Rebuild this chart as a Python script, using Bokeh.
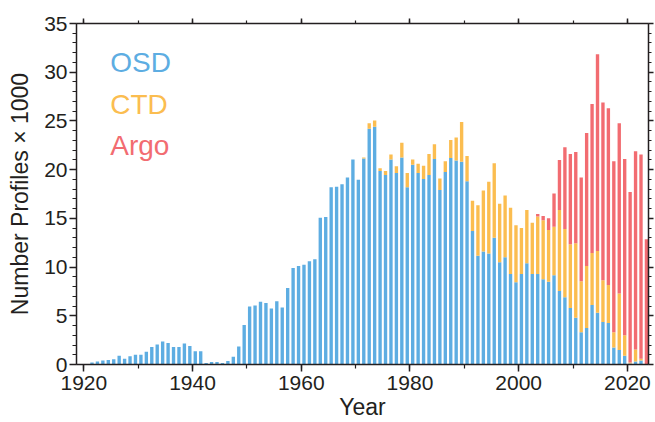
from bokeh.plotting import figure
from bokeh.models import ColumnDataSource, Range1d, LinearAxis, SingleIntervalTicker
from bokeh.core.properties import value
from bokeh.embed import file_html
from bokeh.resources import INLINE

# Annual number of ocean profiles (thousands), by instrument type
years = list(range(1921, 2024))

osd = [0.2, 0.3, 0.4, 0.45, 0.55, 0.9, 0.6, 0.85, 1.0, 1.0,
       1.3, 1.8, 2.05, 2.35, 2.2, 1.8, 1.8, 2.15, 1.9, 1.35,
       1.35, 0.15, 0.25, 0.25, 0.15, 0.35, 0.8, 1.85, 4.05, 5.95,
       6.05, 6.45, 6.3, 5.75, 6.5, 5.85, 7.85, 9.9, 10.1, 10.25,
       10.6, 10.8, 15.05, 15.15, 18.2, 18.25, 18.5, 19.2, 21.05, 18.95,
       21.15, 24.2, 24.4, 19.85, 19.45, 21.05, 19.65, 21.25, 18.2, 20.5,
       19.65, 19.05, 19.45, 21.1, 17.9, 19.75, 21.2, 20.95, 20.8, 18.8,
       13.7, 11.15, 11.6, 11.4, 13.0, 10.5, 11.0, 9.3, 8.45, 9.3,
       10.4, 9.3, 9.3, 8.75, 8.5, 9.15, 7.55, 6.9, 5.8, 4.8,
       3.3, 3.75, 6.1, 5.3, 4.35, 4.25, 1.75, 1.5, 0.9, 0.1,
       0.3, 0.4, 0.0]

ctd = [0.0] * 50 + [
       0.1, 0.55, 0.65, 0.3, 0.4, 0.5, 0.7, 1.5, 1.45, 0.55,
       0.95, 1.35, 2.15, 1.5, 1.2, 1.1, 1.85, 2.35, 4.1, 2.6,
       3.1, 5.2, 6.25, 7.35, 7.65, 6.0, 6.35, 6.8, 5.85, 4.7,
       5.45, 5.25, 5.9, 6.05, 5.3, 5.0, 8.3, 7.0, 6.55, 7.65,
       5.25, 6.35, 5.35, 6.35, 4.3, 3.9, 1.55, 5.8, 2.1, 0.1,
       1.25, 0.2, 0.0]

argo = [0.0] * 82 + [
       0.25, 0.45, 1.2, 3.4, 5.15, 8.4, 9.25, 9.35,
       10.65, 13.65, 15.3, 20.2, 18.25, 18.15, 17.55, 17.45, 18.1, 17.5,
       20.35, 20.95, 12.85]

series = ["OSD", "CTD", "Argo"]
colors = ["#5dade2", "#fbbd50", "#f26c71"]

x_ticks = list(range(1920, 2021, 20))
y_ticks = list(range(0, 36, 5))

FONT = "Liberation Sans"
INK = "#231f20"

source = ColumnDataSource(dict(
    x=[y + 0.5 for y in years], OSD=osd, CTD=ctd, Argo=argo))

p = figure(width=655, height=422, output_backend="svg", toolbar_location=None,
           x_range=Range1d(1918.65, 2023.88), y_range=Range1d(0, 35),
           min_border_left=76, min_border_right=7, min_border_top=23,
           min_border_bottom=58)
p.background_fill_color = "white"
p.border_fill_color = "white"
p.outline_line_color = None
p.grid.visible = False

p.vbar_stack(series, x="x", width=0.62, color=colors, source=source,
             line_color=None)

x_ticker = SingleIntervalTicker(interval=20, num_minor_ticks=2)
y_ticker = SingleIntervalTicker(interval=5, num_minor_ticks=5)

bottom_axis = p.below[0]
left_axis = p.left[0]
bottom_axis.ticker = x_ticker
left_axis.ticker = y_ticker
bottom_axis.axis_label = "Year"
left_axis.axis_label = "Number Profiles \u00d7 1000"

# Tick marks (no numbers) along the top and right edges of the frame
top_axis = LinearAxis(ticker=x_ticker,
                      major_label_overrides={t: "" for t in x_ticks})
right_axis = LinearAxis(ticker=y_ticker,
                        major_label_overrides={t: "" for t in y_ticks})
p.add_layout(top_axis, "above")
p.add_layout(right_axis, "right")

for ax in (bottom_axis, left_axis, top_axis, right_axis):
    ax.axis_line_color = INK
    ax.axis_line_width = 1.5
    ax.major_tick_line_color = INK
    ax.minor_tick_line_color = INK
    ax.major_tick_line_width = 1.5
    ax.minor_tick_line_width = 1.2
    ax.major_tick_in = 0
    ax.minor_tick_in = 0
    ax.major_tick_out = 7
    ax.minor_tick_out = 4
    ax.major_label_text_font = FONT
    ax.major_label_text_color = INK
    ax.major_label_text_font_size = "21px"
    ax.axis_label_text_font = FONT
    ax.axis_label_text_color = INK
    ax.axis_label_text_font_size = "23px"
    ax.axis_label_text_font_style = "normal"

for ax in (top_axis, right_axis):
    ax.major_label_standoff = 0
    ax.major_tick_out = 5
    ax.minor_tick_out = 3

bottom_axis.major_label_standoff = 4
bottom_axis.axis_label_standoff = 1
bottom_axis.axis_label_text_line_height = 0.75
left_axis.major_label_standoff = 2
left_axis.axis_label_standoff = 8

# Coloured series names in the upper left
leg = ColumnDataSource(dict(name=series, color=colors,
                            x=[1924.85] * 3, y=[31.0, 26.7, 22.45]))
p.text(x="x", y="y", text="name", text_color="color", source=leg,
       text_font=value(FONT), text_font_size="28px",
       text_baseline="alphabetic", text_align="left")

open("out.html", "w").write(file_html(p, INLINE))
